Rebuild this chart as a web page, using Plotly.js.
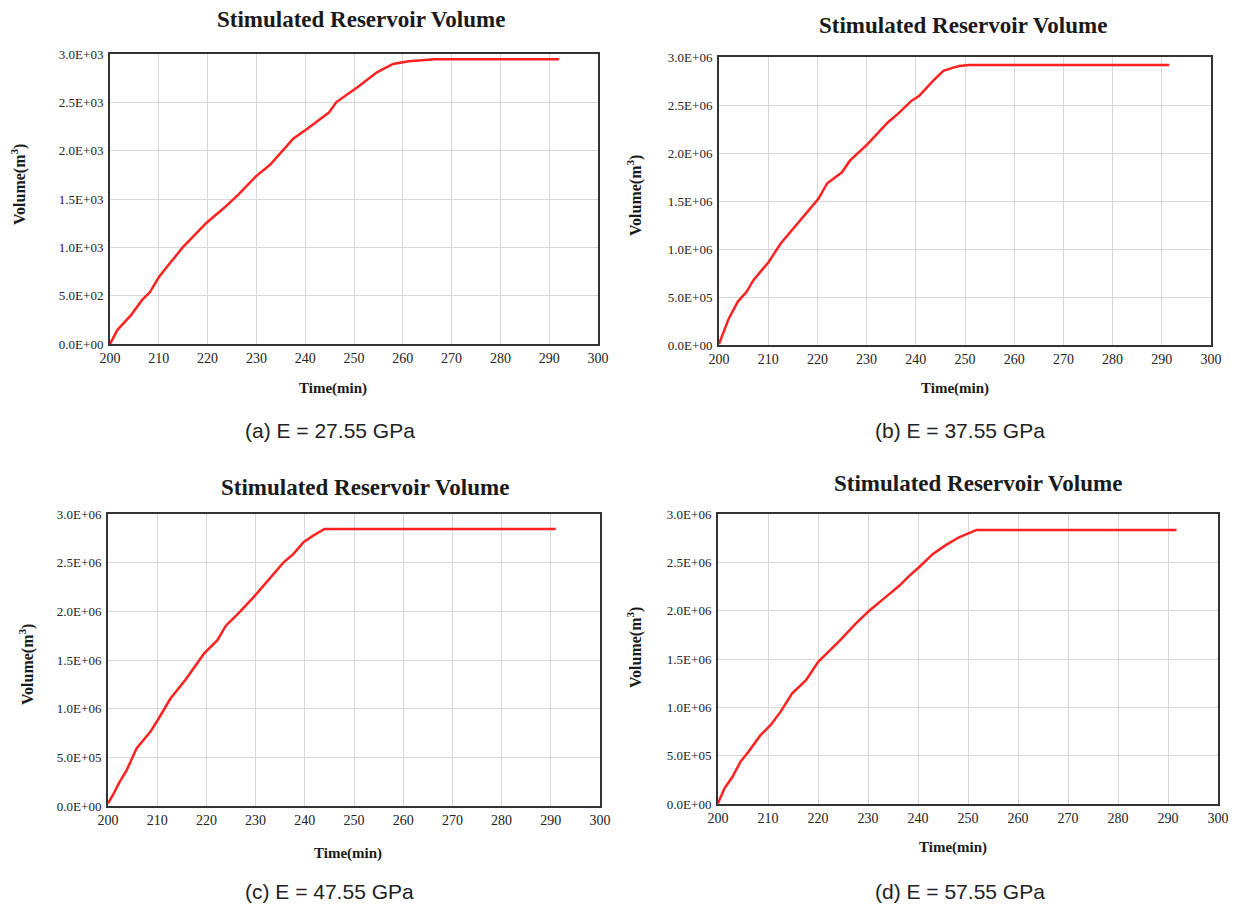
<!DOCTYPE html>
<html>
<head>
<meta charset="utf-8">
<script src="https://cdn.plot.ly/plotly-3.0.1.min.js"></script>
<style>html,body{margin:0;padding:0;background:#fff;}#chart{width:1234px;height:908px;}</style>
</head>
<body>
<div id="chart"></div>
<script>
// ---- Data ----
const timeA = [200, 201.5, 204.3, 206.5, 208.2, 210, 211.6, 214.9, 219.8, 223.4, 226.3, 229.9, 232.8, 235.2, 237.6, 240.5, 244.8, 246.4, 250.7, 254.7, 258, 261.2, 266.5, 292];
const volA  = [0, 144, 298, 451, 537, 691, 793, 999, 1255, 1409, 1546, 1734, 1854, 1990, 2127, 2230, 2391, 2503, 2657, 2811, 2897, 2924, 2945, 2945];

const timeB = [200, 202, 203.8, 205.6, 207, 210.1, 212.5, 216.5, 218.1, 220.2, 222, 225, 226.6, 230.2, 234.3, 236.3, 239.1, 240.7, 243.5, 245.6, 247.6, 248.8, 250.8, 291.5];
const volB  = [0.01e6, 0.277e6, 0.45e6, 0.554e6, 0.675e6, 0.865e6, 1.055e6, 1.298e6, 1.401e6, 1.522e6, 1.685e6, 1.799e6, 1.92e6, 2.093e6, 2.318e6, 2.405e6, 2.543e6, 2.595e6, 2.751e6, 2.855e6, 2.889e6, 2.907e6, 2.917e6, 2.917e6];

const timeC = [200, 201, 202.2, 203.8, 205.8, 208.6, 210.3, 212.7, 215.9, 219.5, 222.2, 224, 226.4, 229.6, 232.8, 235.7, 237.7, 239.7, 241.7, 244, 291];
const volC  = [0.027e6, 0.113e6, 0.232e6, 0.369e6, 0.591e6, 0.762e6, 0.899e6, 1.104e6, 1.308e6, 1.565e6, 1.701e6, 1.855e6, 1.975e6, 2.146e6, 2.333e6, 2.504e6, 2.59e6, 2.709e6, 2.778e6, 2.846e6, 2.846e6];

const timeD = [200, 201.3, 202.9, 204.5, 206.1, 208.5, 210.5, 212.5, 214.8, 217.6, 220, 222, 224.4, 227.5, 230.3, 233.1, 236.3, 238.3, 240.2, 243, 245.4, 248.2, 251.7, 291.7];
const volD  = [0.007e6, 0.162e6, 0.282e6, 0.437e6, 0.54e6, 0.712e6, 0.815e6, 0.953e6, 1.142e6, 1.28e6, 1.469e6, 1.572e6, 1.692e6, 1.864e6, 2.002e6, 2.122e6, 2.26e6, 2.363e6, 2.449e6, 2.587e6, 2.673e6, 2.759e6, 2.835e6, 2.835e6];

const xTickVals = [200, 210, 220, 230, 240, 250, 260, 270, 280, 290, 300];
const xTickText = ["200", "210", "220", "230", "240", "250", "260", "270", "280", "290", "300"];
const yTickValsA = [0, 500, 1000, 1500, 2000, 2500, 3000];
const yTickTextA = ["0.0E+00", "5.0E+02", "1.0E+03", "1.5E+03", "2.0E+03", "2.5E+03", "3.0E+03"];
const yTickValsM = [0, 0.5e6, 1.0e6, 1.5e6, 2.0e6, 2.5e6, 3.0e6];
const yTickTextM = ["0.0E+00", "5.0E+05", "1.0E+06", "1.5E+06", "2.0E+06", "2.5E+06", "3.0E+06"];

const chartTitle = "Stimulated Reservoir Volume";
const xTitle = "Time(min)";
const yTitle = "Volume(m<sup>3</sup>)";
const captions = ["(a) E = 27.55 GPa", "(b) E = 37.55 GPa", "(c) E = 47.55 GPa", "(d) E = 57.55 GPa"];

// ---- Layout helpers (pixel -> paper) ----
const W = 1234, H = 908;
const px = x => x / W;
const py = y => 1 - y / H;

const panels = [
  {t: timeA, v: volA, yv: yTickValsA, yt: yTickTextA, ymax: 3000, box: [110, 598, 54, 344],
   title: [361, 20], xt: [333, 389], yl: [19, 185], cap: [330, 430]},
  {t: timeB, v: volB, yv: yTickValsM, yt: yTickTextM, ymax: 3e6, box: [719, 1211, 57, 345],
   title: [963, 25], xt: [955, 389], yl: [634, 196], cap: [960, 430]},
  {t: timeC, v: volC, yv: yTickValsM, yt: yTickTextM, ymax: 3e6, box: [108, 600, 514, 806],
   title: [365, 487], xt: [348, 853], yl: [26, 665], cap: [330, 891]},
  {t: timeD, v: volD, yv: yTickValsM, yt: yTickTextM, ymax: 3e6, box: [718, 1218, 514, 804],
   title: [978, 483], xt: [953, 847], yl: [634, 648], cap: [960, 891]}
];

const serif = "Liberation Serif, Times New Roman, serif";
const traces = [];
const layout = {
  width: W, height: H,
  margin: {l: 0, r: 0, t: 0, b: 0},
  paper_bgcolor: "#ffffff",
  plot_bgcolor: "#ffffff",
  showlegend: false,
  annotations: []
};

panels.forEach((p, i) => {
  const n = i === 0 ? "" : String(i + 1);
  traces.push({
    x: p.t, y: p.v, type: "scatter", mode: "lines",
    xaxis: "x" + n, yaxis: "y" + n,
    line: {color: "#ff2020", width: 2.5}
  });
  const axCommon = {
    showline: true, mirror: true, linecolor: "#333333", linewidth: 2,
    showgrid: true, gridcolor: "#d8d8d8", gridwidth: 1,
    zeroline: false, ticks: "",
    tickfont: {family: serif, size: 14, color: "#222"},
    fixedrange: true
  };
  layout["xaxis" + n] = Object.assign({}, axCommon, {
    domain: [px(p.box[0]), px(p.box[1])],
    range: [200, 300], tickvals: xTickVals, ticktext: xTickText,
    anchor: "y" + n
  });
  layout["yaxis" + n] = Object.assign({}, axCommon, {
    domain: [py(p.box[3]), py(p.box[2])],
    range: [0, p.ymax], tickvals: p.yv, ticktext: p.yt,
    anchor: "x" + n, ticklabelstandoff: 2,
    tickfont: {family: serif, size: 13, color: "#222"}
  });
  layout.annotations.push(
    {text: chartTitle, x: px(p.title[0]), y: py(p.title[1]), xref: "paper", yref: "paper",
     xanchor: "center", yanchor: "middle", showarrow: false, font: {family: serif, size: 23, color: "#1a1a1a", weight: "bold"}},
    {text: xTitle, x: px(p.xt[0]), y: py(p.xt[1]), xref: "paper", yref: "paper",
     xanchor: "center", yanchor: "middle", showarrow: false, font: {family: serif, size: 15, color: "#1a1a1a", weight: "bold"}},
    {text: yTitle, x: px(p.yl[0]), y: py(p.yl[1]), xref: "paper", yref: "paper",
     xanchor: "center", yanchor: "middle", textangle: -90, showarrow: false, font: {family: serif, size: 16, color: "#1a1a1a", weight: "bold"}},
    {text: captions[i], x: px(p.cap[0]), y: py(p.cap[1]), xref: "paper", yref: "paper",
     xanchor: "center", yanchor: "middle", showarrow: false, font: {family: "Liberation Sans, Arial, sans-serif", size: 21, color: "#222"}}
  );
});

Plotly.newPlot("chart", traces, layout, {displayModeBar: false, staticPlot: true});
</script>
</body>
</html>
